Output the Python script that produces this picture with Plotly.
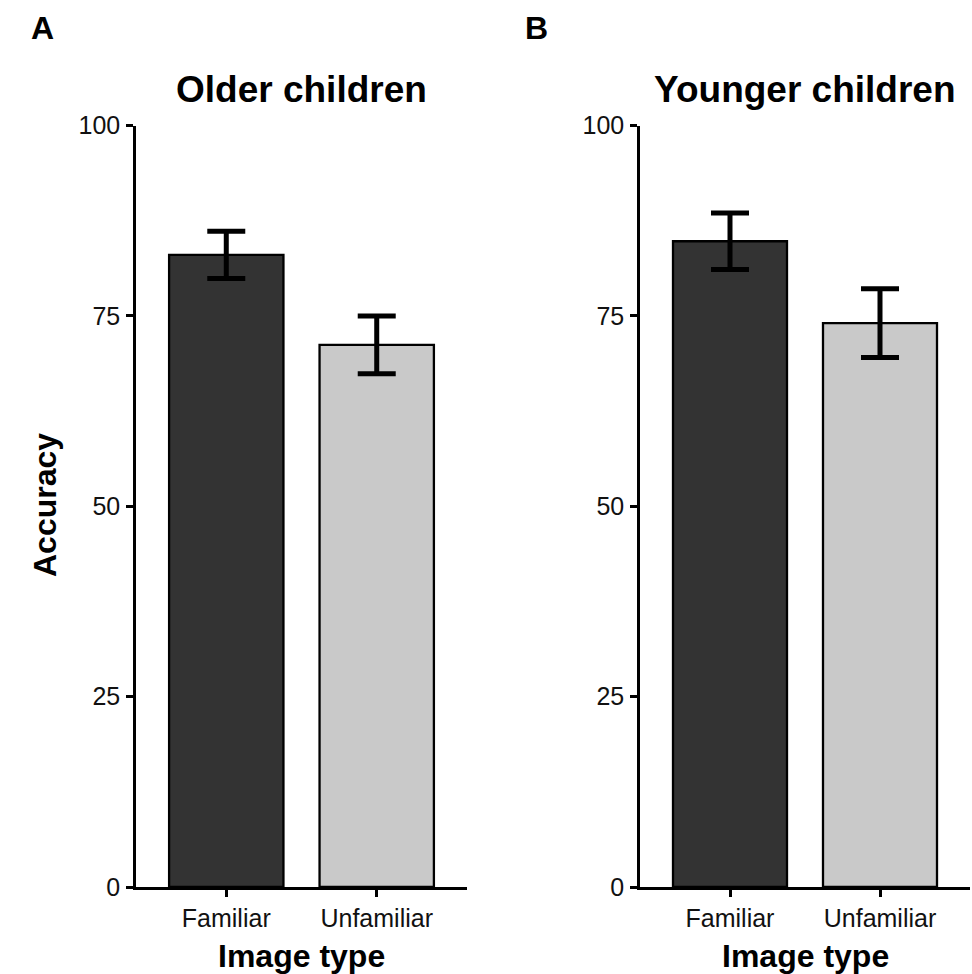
import plotly.graph_objects as go

categories = ["Familiar", "Unfamiliar"]
older_means = [83.0, 71.2]
older_se = [3.1, 3.8]
younger_means = [84.8, 74.05]
younger_se = [3.7, 4.5]
y_ticks = [0, 25, 50, 75, 100]
panel_titles = ["Older children", "Younger children"]
panel_letters = ["A", "B"]

bar_colors = ["#333333", "#c9c9c9"]
FONT = "Liberation Sans"
W, H = 972, 974

fig = go.Figure()
for i, (means, se) in enumerate([(older_means, older_se), (younger_means, younger_se)]):
    ax = "" if i == 0 else "2"
    fig.add_trace(go.Bar(
        x=categories, y=means, width=0.76,
        marker=dict(color=bar_colors, line=dict(color="black", width=2.3)),
        error_y=dict(type="data", array=se, visible=True, color="black",
                     thickness=5, width=19),
        xaxis="x" + ax, yaxis="y" + ax, showlegend=False,
    ))

ydom = [(974 - 887) / H, (974 - 125.5) / H]
xdoms = [[136 / W, 467 / W], [640 / W, 970 / W]]

common_x = dict(type="category", range=[-0.6, 1.6], showline=True, linecolor="black",
                linewidth=2.5, ticks="outside", ticklen=7, tickwidth=2.5, tickcolor="black",
                showgrid=False, zeroline=False, automargin=False,
                tickfont=dict(family=FONT, size=25, color="#111111"), ticklabelstandoff=0)
common_y = dict(range=[0, 100], tickvals=y_ticks, showline=True, linecolor="black",
                linewidth=2.5, ticks="outside", ticklen=7, tickwidth=2.5, tickcolor="black",
                showgrid=False, zeroline=False, automargin=False,
                tickfont=dict(family=FONT, size=25, color="#111111"), ticklabelstandoff=1)

fig.update_layout(
    width=W, height=H, margin=dict(l=0, r=0, t=0, b=0, autoexpand=False),
    plot_bgcolor="white", paper_bgcolor="white",
    xaxis=dict(domain=xdoms[0], anchor="y", **common_x),
    yaxis=dict(domain=ydom, anchor="x", **common_y),
    xaxis2=dict(domain=xdoms[1], anchor="y2", **common_x),
    yaxis2=dict(domain=ydom, anchor="x2", **common_y),
)

anns = []
centers = [(136 + 467) / 2 / W, (640 + 970) / 2 / W]
for i in range(2):
    anns.append(dict(text="<b>%s</b>" % panel_titles[i], x=centers[i], y=(H - 89) / H,
                     xref="paper", yref="paper", showarrow=False, xanchor="center", yanchor="middle",
                     font=dict(family=FONT, size=37, color="black")))
    anns.append(dict(text="<b>Image type</b>", x=centers[i], y=(H - 956) / H,
                     xref="paper", yref="paper", showarrow=False, xanchor="center", yanchor="middle",
                     font=dict(family=FONT, size=32, color="black")))
for letter, lx in zip(panel_letters, [42, 536]):
    anns.append(dict(text="<b>%s</b>" % letter, x=lx / W, y=(H - 28) / H, xref="paper", yref="paper",
                     showarrow=False, xanchor="center", yanchor="middle",
                     font=dict(family=FONT, size=32, color="black")))
anns.append(dict(text="<b>Accuracy</b>", x=45 / W, y=(H - 505) / H, xref="paper", yref="paper",
                 showarrow=False, xanchor="center", yanchor="middle", textangle=-90,
                 font=dict(family=FONT, size=32, color="black")))
fig.update_layout(annotations=anns)

fig.write_html("out.html", config={"displayModeBar": False},
               post_script="document.body.style.margin='0';document.body.style.overflow='hidden';")
